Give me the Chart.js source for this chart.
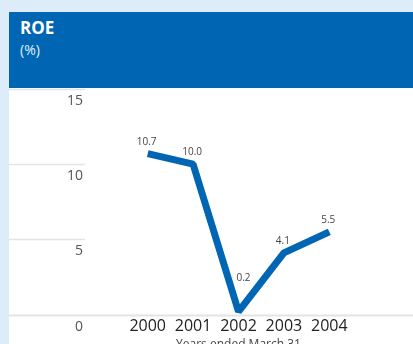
<!DOCTYPE html>
<html>
<head>
<meta charset="utf-8">
<script src="https://cdn.jsdelivr.net/npm/chart.js@4/dist/chart.umd.min.js"></script>
<style>
  html, body { margin: 0; padding: 0; width: 413px; height: 344px; overflow: hidden; background: #dcecf8; font-family: "Open Sans", sans-serif; }
  #panel { position: absolute; left: 9px; top: 88px; width: 404px; height: 300px; background: #ffffff; }
  #chart { position: absolute; left: 0; top: 5px; }
  #header { position: absolute; left: 9px; top: 12px; width: 404px; height: 76px; background: #0066b3; color: #fff; }
  #header .t { position: absolute; left: 11px; top: 6px; font-size: 17px; font-weight: 700; line-height: 20px; }
  #header .u { position: absolute; left: 11px; top: 28px; font-size: 14px; font-weight: 400; line-height: 20px; color: #e2eef9; }
</style>
</head>
<body>
<div id="panel"></div>
<canvas id="chart" width="413" height="360"></canvas>
<div id="header"><div class="t">ROE</div><div class="u">(%)</div></div>
<script>
// Return on equity, fiscal years ended March 31
const years = ['2000', '2001', '2002', '2003', '2004'];
const roe = [10.7, 10.0, 0.2, 4.1, 5.5];
const yTicks = [0, 5, 10, 15];

const BLUE = '#0066b3';
const GRID = '#e4e4e4';

// Short rules beside the value labels, with the zero line spanning the panel
const sideRules = {
  id: 'sideRules',
  beforeDatasetsDraw(chart) {
    const y = chart.scales.y;
    const ctx = chart.ctx;
    ctx.save();
    ctx.strokeStyle = GRID;
    yTicks.forEach(v => {
      const py = Math.round(y.getPixelForValue(v)) + 0.5;
      ctx.lineWidth = v === 0 ? 2 : 1.5;
      ctx.beginPath();
      ctx.moveTo(9, py);
      ctx.lineTo(v === 0 ? chart.width : 85, py);
      ctx.stroke();
    });
    ctx.restore();
  }
};

// Value labels above each point; valleys get their label lifted into the V
const valueLabels = {
  id: 'valueLabels',
  afterDatasetsDraw(chart) {
    const meta = chart.getDatasetMeta(0);
    const ctx = chart.ctx;
    ctx.save();
    ctx.font = '10px "Open Sans"';
    ctx.fillStyle = '#444';
    ctx.textAlign = 'center';
    ctx.textBaseline = 'middle';
    meta.data.forEach((pt, i) => {
      const v = roe[i];
      const valley = i > 0 && i < roe.length - 1 && v < roe[i - 1] && v < roe[i + 1];
      const dy = valley ? 33 : 12;
      const dx = valley ? 5 : -1;
      ctx.fillText(v.toFixed(1), pt.x + dx, pt.y - dy);
    });
    ctx.restore();
  }
};

new Chart(document.getElementById('chart'), {
  type: 'line',
  data: {
    labels: years,
    datasets: [{
      data: roe,
      borderColor: BLUE,
      borderWidth: 7,
      borderCapStyle: 'butt',
      borderJoinStyle: 'bevel',
      tension: 0,
      pointRadius: 0,
      clip: false
    }]
  },
  options: {
    responsive: false,
    animation: false,
    events: [],
    layout: { padding: { top: 84, left: 0, right: 61, bottom: 0 } },
    plugins: { legend: { display: false }, tooltip: { enabled: false } },
    scales: {
      x: {
        offset: true,
        grid: { display: false, drawTicks: false },
        border: { display: false },
        ticks: { color: '#222', font: { family: 'Open Sans', size: 16 }, padding: 2, maxRotation: 0 },
        title: { display: true, text: 'Years ended March 31', color: '#444', font: { family: 'Open Sans', size: 12 }, padding: { top: 0, bottom: 8 } },
        afterFit(s) { s.height = 45; }
      },
      y: {
        min: 0, max: 15,
        afterBuildTicks(s) { s.ticks = yTicks.map(v => ({ value: v })); },
        grid: { display: false, drawTicks: false },
        border: { display: false },
        ticks: { color: '#555', font: { family: 'Open Sans', size: 14, weight: '400' }, padding: 42, labelOffset: 12 },
        afterFit(s) { s.width = 125; }
      }
    }
  },
  plugins: [sideRules, valueLabels]
});
</script>
</body>
</html>
